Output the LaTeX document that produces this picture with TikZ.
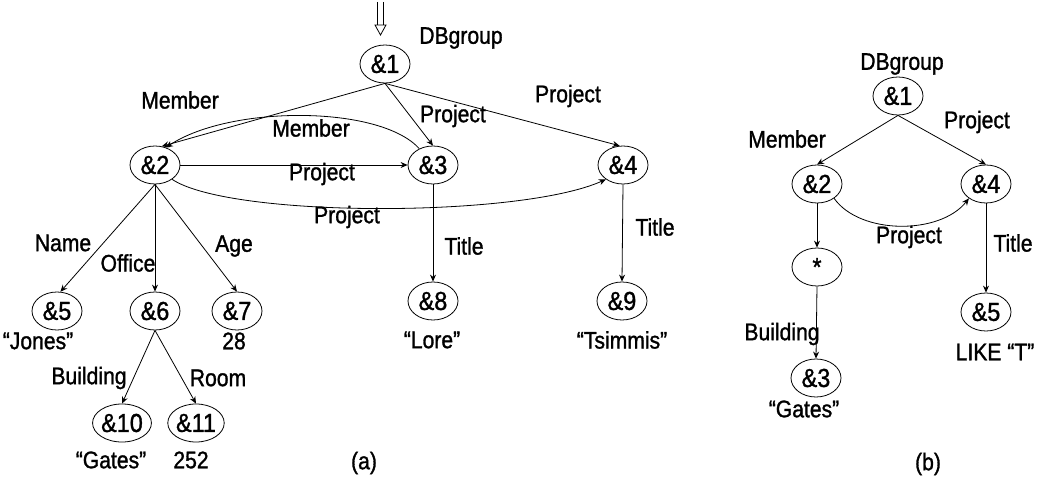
\documentclass[tikz,border=0pt]{standalone}
\usepackage{fontspec}
\setmainfont{Liberation Sans}
\newfontfamily\labfont[FakeStretch=0.88,FakeBold=1.2]{Liberation Sans}
\newfontfamily\nodefont[FakeStretch=0.9,FakeBold=1.2]{Liberation Sans}
\usetikzlibrary{shapes.geometric,arrows.meta}
\tikzset{
  obj/.style={draw, ellipse, minimum width=50pt, minimum height=38pt, inner sep=0pt, line width=0.8pt,
    font=\nodefont\fontsize{26}{30}\selectfont},
  lbl/.style={inner sep=0pt, font=\labfont\fontsize{24}{28}\selectfont},
  arr/.style={line width=0.8pt, -{Stealth[length=7pt,width=6pt]}},
}
\begin{document}
\begin{tikzpicture}[x=1pt,y=-1pt]
\useasboundingbox (0,0) rectangle (1037,484);
% ---------- (a) ----------
\node[obj] (a1) at (385,64) {\&1};
\node[obj] (a2) at (155,165) {\&2};
\node[obj] (a3) at (433,165) {\&3};
\node[obj] (a4) at (623,165) {\&4};
\node[obj] (a5) at (57,311) {\&5};
\node[obj] (a6) at (155,311) {\&6};
\node[obj] (a7) at (237,311) {\&7};
\node[obj] (a8) at (433,301) {\&8};
\node[obj] (a9) at (622,301) {\&9};
\node[obj] (a10) at (122,423) {\&10};
\node[obj] (a11) at (196,423) {\&11};

\node[lbl] (tDB) at (461,38) {DBgroup};
\node[lbl] (tMem1) at (180,100) {Member};
\node[lbl] (tMem2) at (311,128) {Member};
\node[lbl] (tPr1) at (453,116) {Project};
\node[lbl] (tPr2) at (568,96) {Project};
\node[lbl] (tPr3) at (322,174) {Project};
\node[lbl] (tPr4) at (347,217) {Project};
\node[lbl] (tTi1) at (464,246) {Title};
\node[lbl] (tTi2) at (655,227) {Title};
\node[lbl] (tName) at (63,243) {Name};
\node[lbl] (tOff) at (128,263) {Office};
\node[lbl] (tAge) at (234,246) {Age};
\node[lbl] (tBld) at (89,378) {Building};
\node[lbl] (tRoom) at (218,378) {Room};
\node[lbl] (vJones) at (38,341) {“Jones”};
\node[lbl] (v28) at (234,341) {28};
\node[lbl] (vLore) at (432,340) {“Lore”};
\node[lbl] (vTs) at (622,340) {“Tsimmis”};
\node[lbl] (vGates) at (111,460) {“Gates”};
\node[lbl] (v252) at (191,460) {252};
\node[lbl] (capA) at (364,463) {(a)};

% entry arrow
\draw[line width=0.8pt] (377.5,2) -- (377.5,25) (383.5,2) -- (383.5,25);
\draw[line width=0.8pt, line join=miter] (375,25) -- (386,25) -- (380.5,35) -- cycle;

\draw[arr] (a1.south) -- (a2.70);
\draw[arr] (a1.south) -- (a3.north);
\draw[arr] (a1.south) -- (a4.100);
\draw[arr] (a3.130) .. controls (380,105) and (230,105) .. (a2.58);
\draw[arr] (a2.east) -- (a3.west);
\draw[arr] (a2.-40) .. controls (230,218) and (520,218) .. (a4.220);
\draw[arr] (a3.south) -- (a8.north);
\draw[arr] (a4.south) -- (a9.north);
\draw[arr] (a2.south) -- (a5.80);
\draw[arr] (a2.south) -- (a6.north);
\draw[arr] (a2.south) -- (a7.north);
\draw[arr] (a6.south) -- (a10.north);
\draw[arr] (a6.south) -- (a11.north);

% ---------- (b) ----------
\node[obj] (b1) at (898,96) {\&1};
\node[obj] (b2) at (817,184) {\&2};
\node[obj] (b4) at (986,184) {\&4};
\node[obj] (bs) at (817,267) {*};
\node[obj] (b3) at (816,378) {\&3};
\node[obj] (b5) at (986,312) {\&5};

\node[lbl] (uDB) at (902,64) {DBgroup};
\node[lbl] (uMem) at (787,139) {Member};
\node[lbl] (uPr1) at (977,122) {Project};
\node[lbl] (uPr2) at (909,237) {Project};
\node[lbl] (uTi) at (1013,243) {Title};
\node[lbl] (uBld) at (782,334) {Building};
\node[lbl] (wGates) at (804,409) {“Gates”};
\node[lbl] (wLike) at (995,352) {LIKE “T”};
\node[lbl] (capB) at (928,464) {(b)};

\draw[arr] (b1.south) -- (b2.north);
\draw[arr] (b1.south) -- (b4.north);
\draw[arr] (b2.-40) .. controls (860,235) and (940,235) .. (b4.220);
\draw[arr] (b2.south) -- (bs.north);
\draw[arr] (bs.south) -- (b3.north);
\draw[arr] (b4.south) -- (b5.north);
\end{tikzpicture}
\end{document}
